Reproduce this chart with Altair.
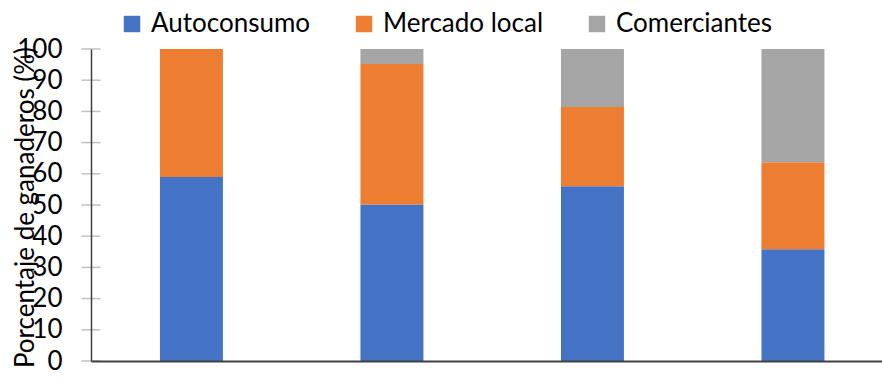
import altair as alt
import pandas as pd

# Stacked shares of livestock farmers by sales channel, four groups
groups = ["G1", "G2", "G3", "G4"]
autoconsumo = [59.0, 50.2, 56.0, 35.8]
mercado_local = [41.0, 45.0, 25.4, 27.9]
comerciantes = [0.0, 4.8, 18.6, 36.3]
series_names = ["Autoconsumo", "Mercado local", "Comerciantes"]
series_colors = ["#4472C4", "#ED7D31", "#A5A5A5"]
y_ticks = [0, 10, 20, 30, 40, 50, 60, 70, 80, 90, 100]

rows = []
for i, g in enumerate(groups):
    for k, (name, vals) in enumerate(zip(series_names, [autoconsumo, mercado_local, comerciantes])):
        rows.append({"grupo": g, "canal": name, "orden": k, "valor": vals[i]})
df = pd.DataFrame(rows)
ticks_df = pd.DataFrame({"valor": y_ticks})

FONT = "Lato"

x_scale = alt.Scale(domain=groups, paddingInner=0.686, paddingOuter=0.3155, align=0.545)
y_scale = alt.Scale(domain=[0, 100], nice=False)

y_axis = alt.Axis(values=y_ticks, ticks=False, labelPadding=29, labelFont=FONT,
                  labelFontSize=26, labelColor="#000000", labelBaseline="middle",
                  labelOverlap=False, labelBound=False, labelFlush=False,
                  domainColor="#404040", domainWidth=1.5, zindex=1, grid=False,
                  title="Porcentaje de ganaderos (%)", titleFont=FONT, titleFontSize=26,
                  titleFontWeight="normal", titleColor="#000000", titleAngle=270,
                  titleX=-58, titleY=158, titleAlign="center",
                  titleBaseline="alphabetic")

bars = alt.Chart(df).mark_bar().encode(
    x=alt.X("grupo:N", scale=x_scale, sort=groups,
            axis=alt.Axis(labels=False, ticks=False, title=None, domainColor="#404040",
                          domainWidth=2, zindex=1)),
    y=alt.Y("valor:Q", stack="zero", scale=y_scale, axis=y_axis),
    color=alt.Color("canal:N", scale=alt.Scale(domain=series_names, range=series_colors),
                    legend=alt.Legend(title=None, orient="none", direction="horizontal",
                                      legendX=28, legendY=-38, symbolType="square",
                                      symbolSize=270, symbolStrokeWidth=0, labelFont=FONT,
                                      labelFontSize=26, labelColor="#000000", labelOffset=6,
                                      labelLimit=400, columnPadding=40)),
    order=alt.Order("orden:Q", sort="ascending"),
)

# Tick marks crossing the vertical axis line
yticks = alt.Chart(ticks_df).mark_tick(color="#A6A6A6", thickness=1.5, size=19).encode(
    x=alt.value(0),
    y=alt.Y("valor:Q", scale=y_scale, axis=y_axis),
)

chart = alt.layer(bars, yticks).properties(
    width=791,
    height=312,
    padding={"left": 91, "top": 49, "right": 0, "bottom": 17},
    autosize="none",
).configure_view(stroke=None)

chart.save("out.html", embed_options={"renderer": "svg", "actions": False})
